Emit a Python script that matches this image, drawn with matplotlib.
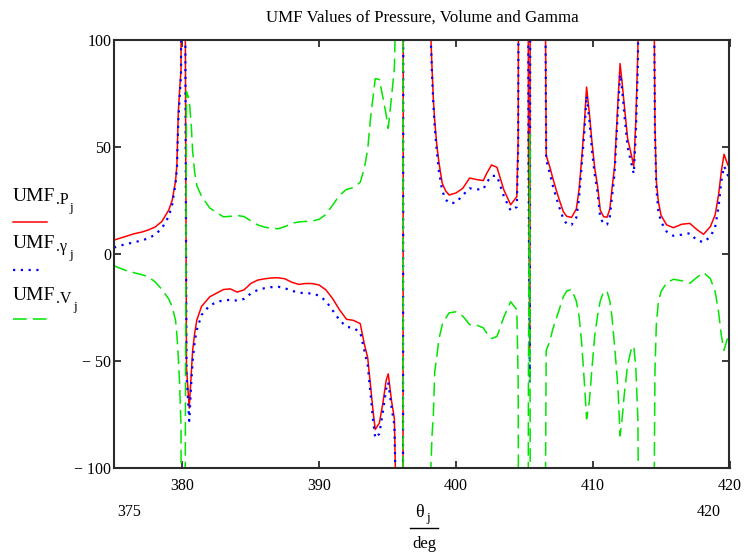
import matplotlib
matplotlib.use("Agg")
import matplotlib.pyplot as plt
from matplotlib.lines import Line2D

# Crank angle samples (deg) shared by the three UMF series
theta = [
    375.0, 375.5, 376.0, 376.5, 377.0, 377.5, 378.0, 378.5, 379.0, 379.25,
    379.5, 379.6, 379.7, 379.8, 379.9, 380.0, 380.3, 380.5, 380.65, 380.75,
    380.9, 381.05, 381.4, 382.0, 382.7, 383.0, 383.5, 384.0, 384.5, 385.0,
    385.5, 386.0, 386.5, 387.0, 387.5, 388.0, 388.5, 389.0, 389.5, 390.0,
    390.5, 391.0, 391.5, 392.0, 392.5, 393.0, 393.3, 393.55, 393.75, 393.95,
    394.1, 394.4, 394.65, 394.9, 395.05, 395.3, 395.5, 395.75, 396.1, 396.18,
    397.0, 398.0, 398.25, 398.35, 398.45, 398.6, 398.75, 399.0, 399.25, 399.5,
    400.0, 400.5, 401.0, 401.5, 402.0, 402.25, 402.6, 403.0, 403.5, 404.0,
    404.45, 404.55, 404.7, 405.2, 405.3, 405.4, 405.5, 406.0, 406.5, 406.6,
    406.85, 407.1, 407.35, 407.6, 407.85, 408.1, 408.45, 408.8, 409.0, 409.2,
    409.4, 409.55, 409.75, 409.95, 410.15, 410.35, 410.55, 410.8, 411.05, 411.25,
    411.4, 411.6, 411.85, 412.0, 412.15, 412.3, 412.55, 412.8, 413.0, 413.15,
    413.3, 413.45, 414.0, 414.45, 414.55, 414.65, 414.8, 415.0, 415.4, 415.9,
    416.5, 417.1, 417.6, 418.1, 418.6, 418.95, 419.2, 419.4, 419.6, 419.8,
    420.0,
]

# UMF of pressure
umf_p = [
    6.5, 7.5, 8.5, 9.5, 10.2, 11.2, 12.6, 15.2, 20.5, 25.0,
    34.0, 42.0, 66.0, 77.0, 86.0, 500.0, -53.0, -72.0, -56.0, -45.0,
    -37.0, -31.0, -24.5, -20.0, -17.6, -16.6, -16.3, -17.8, -16.8, -13.8,
    -12.2, -11.6, -11.2, -11.1, -11.6, -13.2, -14.2, -13.8, -13.8, -14.5,
    -16.8, -21.0, -26.2, -30.5, -31.0, -32.5, -42.0, -48.5, -61.0, -74.0,
    -82.0, -79.0, -70.0, -59.0, -56.0, -69.0, -77.0, -160.0, -500.0, 500.0,
    300.0, 130.0, 87.0, 72.0, 62.0, 51.0, 43.0, 33.0, 29.5, 27.6,
    28.5, 30.7, 35.5, 34.8, 34.3, 37.7, 41.6, 40.5, 30.0, 23.0,
    26.8, 54.0, 500.0, 500.0, 51.0, -44.0, 500.0, 300.0, 160.0, 46.0,
    41.0, 35.0, 29.5, 24.5, 19.8, 17.6, 17.1, 21.0, 30.0, 45.0,
    62.0, 78.0, 66.0, 52.0, 40.0, 32.0, 20.5, 17.4, 17.2, 21.0,
    30.0, 41.0, 72.0, 89.0, 80.0, 70.0, 54.0, 47.0, 41.0, 62.0,
    95.0, 200.0, 300.0, 150.0, 60.0, 34.0, 24.5, 18.0, 13.6, 12.3,
    13.9, 14.3, 11.5, 9.2, 12.8, 18.2, 27.6, 38.5, 46.6, 43.0,
    40.0,
]

# UMF of gamma
umf_gamma = [
    3.0, 4.0, 4.8, 5.5, 6.3, 7.3, 9.0, 12.0, 17.5, 23.0,
    33.0, 40.0, 62.0, 73.0, 84.0, 500.0, -56.0, -78.0, -60.0, -50.0,
    -41.0, -35.5, -28.5, -24.0, -22.0, -22.0, -21.3, -21.8, -21.0, -18.5,
    -16.8, -16.0, -15.5, -15.3, -16.0, -17.2, -18.0, -18.4, -18.4, -19.5,
    -22.0, -26.5, -31.0, -34.0, -34.6, -36.5, -45.0, -52.0, -65.0, -78.0,
    -86.0, -84.0, -74.0, -63.0, -60.0, -72.0, -80.0, -160.0, -500.0, 500.0,
    300.0, 130.0, 84.0, 70.0, 59.0, 48.0, 39.0, 29.5, 25.5, 23.7,
    24.0, 27.5, 30.7, 30.2, 30.2, 33.5, 36.5, 36.5, 27.0, 20.3,
    22.0, 50.0, 500.0, 500.0, 50.0, -60.0, 500.0, 300.0, 160.0, 44.0,
    38.0, 31.5, 26.0, 21.0, 16.5, 14.0, 13.6, 17.0, 26.0, 42.0,
    58.0, 74.0, 63.0, 48.0, 37.0, 29.0, 17.0, 14.0, 13.8, 17.5,
    26.0, 38.0, 68.0, 84.0, 77.0, 66.0, 50.0, 43.0, 37.5, 56.0,
    88.0, 200.0, 300.0, 150.0, 57.0, 31.0, 20.0, 15.0, 10.5, 8.5,
    9.0, 9.7, 6.5, 5.5, 8.1, 12.5, 22.0, 34.0, 41.0, 38.5,
    34.0,
]

# UMF of volume
umf_v = [
    -5.5, -6.8, -8.0, -8.8, -9.6, -10.6, -13.0, -16.5, -21.0, -24.5,
    -31.0, -38.0, -48.0, -61.0, -81.0, -500.0, 76.0, 72.0, 60.0, 48.0,
    38.0, 32.0, 27.0, 21.5, 18.5, 17.4, 17.6, 18.0, 17.5, 15.5,
    13.6, 12.6, 12.0, 11.8, 12.8, 14.3, 15.0, 15.2, 15.4, 16.2,
    18.5, 23.0, 27.5, 30.2, 31.0, 33.5, 40.0, 49.0, 63.0, 74.0,
    82.0, 81.5, 73.5, 65.0, 58.7, 74.0, 87.0, 160.0, 500.0, -500.0,
    -300.0, -130.0, -85.0, -75.0, -55.0, -48.0, -40.0, -33.0, -30.0, -27.5,
    -27.0, -29.0, -33.0, -33.2, -34.5, -37.0, -39.5, -38.5, -29.5, -22.3,
    -26.0, -60.0, -500.0, -500.0, -54.0, 56.0, -500.0, -300.0, -160.0, -45.0,
    -41.0, -34.7, -30.0, -25.0, -20.0, -17.3, -16.5, -22.0, -29.0, -42.0,
    -61.0, -77.0, -69.0, -53.0, -38.0, -29.0, -22.0, -17.5, -17.5, -22.0,
    -29.0, -43.0, -63.0, -85.0, -77.0, -66.0, -52.0, -45.0, -43.0, -53.0,
    -77.0, -200.0, -300.0, -150.0, -55.0, -33.0, -22.3, -17.5, -13.5, -11.8,
    -12.5, -13.7, -11.0, -8.7, -11.5, -17.5, -27.0, -38.0, -45.0, -40.5,
    -36.0,
]

x_ticks = [380, 390, 400, 410, 420]
x_tick_labels = ["380", "390", "400", "410", "420"]
y_ticks = [-100, -50, 0, 50, 100]
y_tick_labels = ["\u2212 100", "\u2212 50", "0", "50", "100"]
x_range = (375, 420)
y_range = (-100, 100)

title = "UMF Values of Pressure, Volume and Gamma"

RED = "#ff0000"
BLUE = "#0000ff"
GREEN = "#00e600"
SPINE = "#2b2b2b"

W, H = 749, 554
plt.rcParams["font.family"] = ["Liberation Serif", "DejaVu Serif"]
fig = plt.figure(figsize=(W / 100, H / 100), dpi=100)


def fx(x):
    return x / W


def fy(y):
    return 1 - y / H


ax = fig.add_axes([fx(114), fy(468), (729.5 - 114) / W, (468 - 40) / H])

green_dash = (0, (9, 4))
blue_dot = (0, (1, 2.5))

ax.plot(theta, umf_p, color=RED, lw=1.1)
ax.plot(theta, umf_gamma, color=BLUE, lw=1.6, linestyle=blue_dot)
ax.plot(theta, umf_v, color=GREEN, lw=1.1, linestyle=green_dash)

ax.set_xlim(*x_range)
ax.set_ylim(*y_range)
ax.set_xticks(x_ticks)
ax.set_xticklabels(x_tick_labels)
ax.set_yticks(y_ticks)
ax.set_yticklabels(y_tick_labels)

for s in ax.spines.values():
    s.set_color(SPINE)
    s.set_linewidth(1.5)

ax.tick_params(axis="both", direction="in", length=5, width=1.3,
               colors=SPINE, labelcolor="black", labelsize=11.5,
               top=True, right=True)
ax.tick_params(axis="x", pad=7)
ax.tick_params(axis="y", pad=2)

# Title
fig.text(fx(422), fy(18), title, ha="center", va="center", fontsize=12.2)

# Axis range labels and the theta/deg fraction below the axis
fig.text(fx(129), fy(512), "375", ha="center", va="center", fontsize=11.5)
fig.text(fx(709), fy(512), "420", ha="center", va="center", fontsize=11.5)
fig.text(fx(419), fy(517), "\u03b8", ha="center", va="baseline", fontsize=13)
fig.text(fx(426), fy(521), "j", ha="left", va="baseline", fontsize=9.5)
fig.add_artist(Line2D([fx(410), fx(438)], [fy(528), fy(528)],
                      color="black", lw=1.0))
fig.text(fx(424.5), fy(548), "deg", ha="center", va="baseline", fontsize=12)

# Legend at the left of the plot
entries = [
    (".P", 69.5, 201, 221.7, RED, "-", 1.1, 47.3),
    (".\u03b3", 69.5, 248, 270, BLUE, blue_dot, 1.6, 43),
    (".V", 73.0, 300, 319, GREEN, green_dash, 1.1, 47),
]
for sub, j_x, base, line_y, col, ls, lw, x_end in entries:
    fig.text(fx(13), fy(base), "UMF", ha="left", va="baseline", fontsize=14)
    fig.text(fx(56), fy(base + 3), sub, ha="left", va="baseline", fontsize=11.5)
    fig.text(fx(j_x), fy(base + 10), "j", ha="left", va="baseline", fontsize=9.5)
    fig.add_artist(Line2D([fx(12.5), fx(x_end)], [fy(line_y), fy(line_y)],
                          color=col, lw=lw, linestyle=ls))

fig.savefig("out.png", dpi=100)
